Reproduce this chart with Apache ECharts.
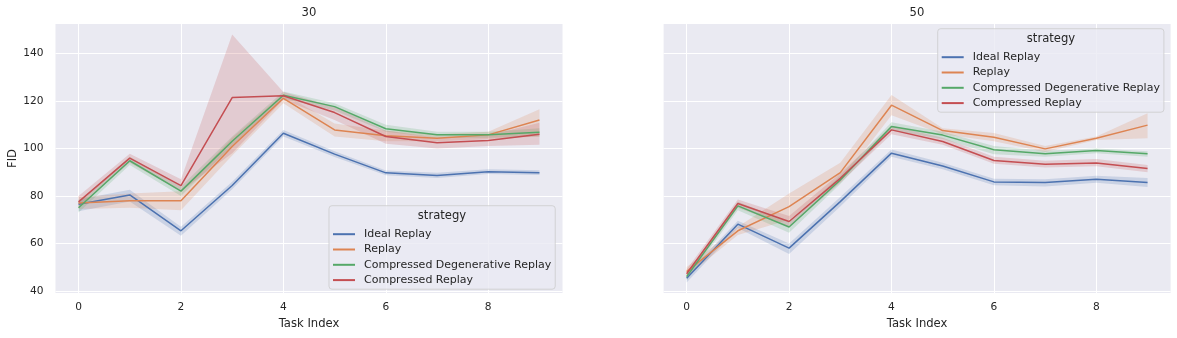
<!DOCTYPE html>
<html>
<head>
<meta charset="utf-8">
<script src="https://cdn.jsdelivr.net/npm/echarts@6.0.0/dist/echarts.min.js"></script>
<style>
  html, body { margin: 0; padding: 0; background: #fff; }
  #chart { width: 1177px; height: 338px; }
</style>
</head>
<body>
<div id="chart"></div>
<script>
// task index (x) and tick labels
const taskIndex = [0, 1, 2, 3, 4, 5, 6, 7, 8, 9];
const xTicks = [0, 2, 4, 6, 8];
const yTicks = [40, 60, 80, 100, 120, 140];
const strategies = ['Ideal Replay', 'Replay', 'Compressed Degenerative Replay', 'Compressed Replay'];
const panelTitles = ['30', '50'];

// panel "30": mean FID and 95% band
const ideal30   = [76.5, 80.4, 65.3, 84.4, 106.4, 97.6, 89.7, 88.6, 90.2, 89.8];
const ideal30Lo = [73.5, 77.6, 63.2, 82.8, 105.0, 96.4, 88.7, 87.5, 89.2, 88.8];
const ideal30Hi = [78.5, 82.6, 67.0, 86.0, 107.8, 98.8, 90.7, 89.7, 91.2, 90.8];
const replay30   = [77.0, 78.0, 78.0, 100.8, 121.1, 107.8, 105.3, 104.3, 105.7, 112.0];
const replay30Lo = [74.5, 75.0, 74.0, 97.0, 119.0, 105.0, 103.0, 103.0, 104.0, 105.0];
const replay30Hi = [79.5, 81.0, 82.0, 104.5, 123.0, 110.5, 107.5, 106.0, 107.0, 116.5];
const cdr30   = [75.0, 94.8, 82.0, 103.0, 122.4, 117.6, 108.3, 105.8, 105.8, 106.8];
const cdr30Lo = [73.0, 93.0, 80.0, 101.0, 121.0, 116.0, 107.0, 104.5, 104.5, 105.0];
const cdr30Hi = [77.5, 96.5, 84.0, 105.0, 124.0, 119.0, 110.0, 107.0, 107.0, 108.5];
const cr30   = [77.5, 95.9, 84.3, 121.4, 122.2, 115.1, 105.0, 102.4, 103.3, 106.0];
const cr30Lo = [75.5, 94.0, 82.0, 98.0, 120.5, 112.0, 102.0, 100.0, 101.0, 101.5];
const cr30Hi = [80.0, 97.8, 87.0, 148.0, 123.8, 117.5, 107.5, 104.5, 105.5, 110.8];

// panel "50"
const ideal50   = [45.3, 68.1, 58.0, 77.6, 98.0, 92.6, 85.9, 85.6, 87.0, 85.6];
const ideal50Lo = [43.5, 66.5, 55.5, 75.5, 96.5, 91.2, 84.5, 84.0, 85.5, 83.7];
const ideal50Hi = [47.0, 69.5, 60.0, 79.5, 99.5, 94.0, 87.2, 87.0, 88.5, 87.5];
const replay50   = [48.1, 65.3, 75.5, 89.8, 118.2, 107.5, 104.7, 99.8, 104.3, 109.8];
const replay50Lo = [46.0, 63.5, 70.0, 86.0, 114.0, 106.0, 103.0, 98.5, 103.5, 104.3];
const replay50Hi = [50.0, 67.0, 81.0, 94.0, 122.5, 108.5, 106.5, 101.0, 105.0, 114.8];
const cdr50   = [46.0, 75.8, 66.9, 86.7, 109.2, 105.6, 99.4, 97.7, 99.1, 97.7];
const cdr50Lo = [44.5, 74.0, 64.5, 85.0, 107.5, 104.0, 97.5, 96.5, 98.0, 96.5];
const cdr50Hi = [47.5, 77.5, 69.0, 88.5, 111.0, 107.0, 101.0, 99.0, 100.0, 98.8];
const cr50   = [47.2, 76.8, 69.2, 87.4, 107.8, 102.9, 94.9, 93.3, 93.9, 91.5];
const cr50Lo = [45.5, 75.0, 67.0, 85.5, 106.0, 101.5, 93.5, 92.0, 92.5, 90.0];
const cr50Hi = [49.0, 78.5, 71.5, 89.5, 109.5, 104.5, 96.5, 94.8, 95.5, 93.0];

const colors = ['#4C72B0', '#DD8452', '#55A868', '#C44E52'];
const txt = '#262626';

const panels = [
    [[ideal30, ideal30Lo, ideal30Hi], [replay30, replay30Lo, replay30Hi], [cdr30, cdr30Lo, cdr30Hi], [cr30, cr30Lo, cr30Hi]],
    [[ideal50, ideal50Lo, ideal50Hi], [replay50, replay50Lo, replay50Hi], [cdr50, cdr50Lo, cdr50Hi], [cr50, cr50Lo, cr50Hi]]
];

const chart = echarts.init(document.getElementById('chart'));

const grids = [
    {left: 55.5, top: 24, width: 507, height: 269},
    {left: 663.6, top: 24, width: 507, height: 269}
];

let series = [];
// confidence bands as one polygon each, drawn through the axes
panels.forEach((panel, g) => {
    panel.forEach((s, k) => {
        const lo = s[1], hi = s[2];
        series.push({
            type: 'custom', name: '_band' + g + k, xAxisIndex: g, yAxisIndex: g,
            silent: true, z: 1,
            data: taskIndex.map((x, i) => [x, lo[i], hi[i]]),
            encode: {x: 0, y: [1, 2]},
            renderItem: function (params, api) {
                if (params.dataIndex !== 0) return null;
                const pts = [];
                taskIndex.forEach((x, i) => pts.push(api.coord([x, hi[i]])));
                for (let i = taskIndex.length - 1; i >= 0; i--) pts.push(api.coord([taskIndex[i], lo[i]]));
                return {
                    type: 'polygon',
                    shape: {points: pts},
                    style: {fill: colors[k], opacity: 0.2}
                };
            }
        });
    });
});
panels.forEach((panel, g) => {
    panel.forEach((s, k) => {
        series.push({
            type: 'line', name: strategies[k], xAxisIndex: g, yAxisIndex: g,
            symbol: 'none', color: colors[k], z: 3,
            lineStyle: {width: 1.5, color: colors[k]},
            data: taskIndex.map((x, i) => [x, s[0][i]])
        });
    });
});

function xAxis(g) {
    return {
        type: 'value', gridIndex: g, min: -0.45, max: 9.45,
        name: 'Task Index', nameLocation: 'middle', nameGap: 24,
        nameTextStyle: {color: txt, fontSize: 11.6},
        axisLine: {show: false},
        axisTick: {show: false, customValues: xTicks},
        axisLabel: {customValues: xTicks, color: txt, fontSize: 10.6, margin: 9},
        splitLine: {show: true, lineStyle: {color: '#fff', width: 1}}
    };
}
function yAxis(g) {
    return {
        type: 'value', gridIndex: g, min: 39.1, max: 152.4,
        name: g === 0 ? 'FID' : '', nameLocation: 'middle', nameGap: 36,
        nameTextStyle: {color: txt, fontSize: 11.6},
        axisLine: {show: false},
        axisTick: {show: false, customValues: yTicks},
        axisLabel: {show: g === 0, customValues: yTicks, color: txt, fontSize: 10.6, margin: 12},
        splitLine: {show: true, lineStyle: {color: '#fff', width: 1}}
    };
}

function legend(left, top) {
    return {
        data: strategies, orient: 'vertical', left: left, top: top,
        padding: [22, 4, 2.6, 4], itemGap: 2.3,
        itemWidth: 22, itemHeight: 2, icon: 'rect',
        backgroundColor: 'rgba(234,234,242,0.8)',
        borderColor: 'rgba(204,204,204,0.8)', borderWidth: 1, borderRadius: 3,
        selectedMode: false,
        textStyle: {color: txt, fontSize: 11, lineHeight: 13, padding: [0, 0, 0, 4]}
    };
}

function label(x, y, text, size) {
    return {
        type: 'text', x: x, y: y, z: 100,
        style: {text: text, fill: txt, font: size + 'px "DejaVu Sans"', textAlign: 'center', textVerticalAlign: 'middle'}
    };
}

chart.setOption({
    animation: false,
    textStyle: {fontFamily: 'DejaVu Sans'},
    grid: grids.map(g => Object.assign({show: true, backgroundColor: '#EAEAF2', borderWidth: 0}, g)),
    xAxis: [xAxis(0), xAxis(1)],
    yAxis: [yAxis(0), yAxis(1)],
    legend: [legend(329, 205.7), legend(937.7, 28.7)],
    graphic: [
        label(309, 13, panelTitles[0], 11.6),
        label(917, 13, panelTitles[1], 11.6),
        label(442, 216, 'strategy', 11.6),
        label(1051, 39, 'strategy', 11.6)
    ],
    series: series
});
</script>
</body>
</html>
